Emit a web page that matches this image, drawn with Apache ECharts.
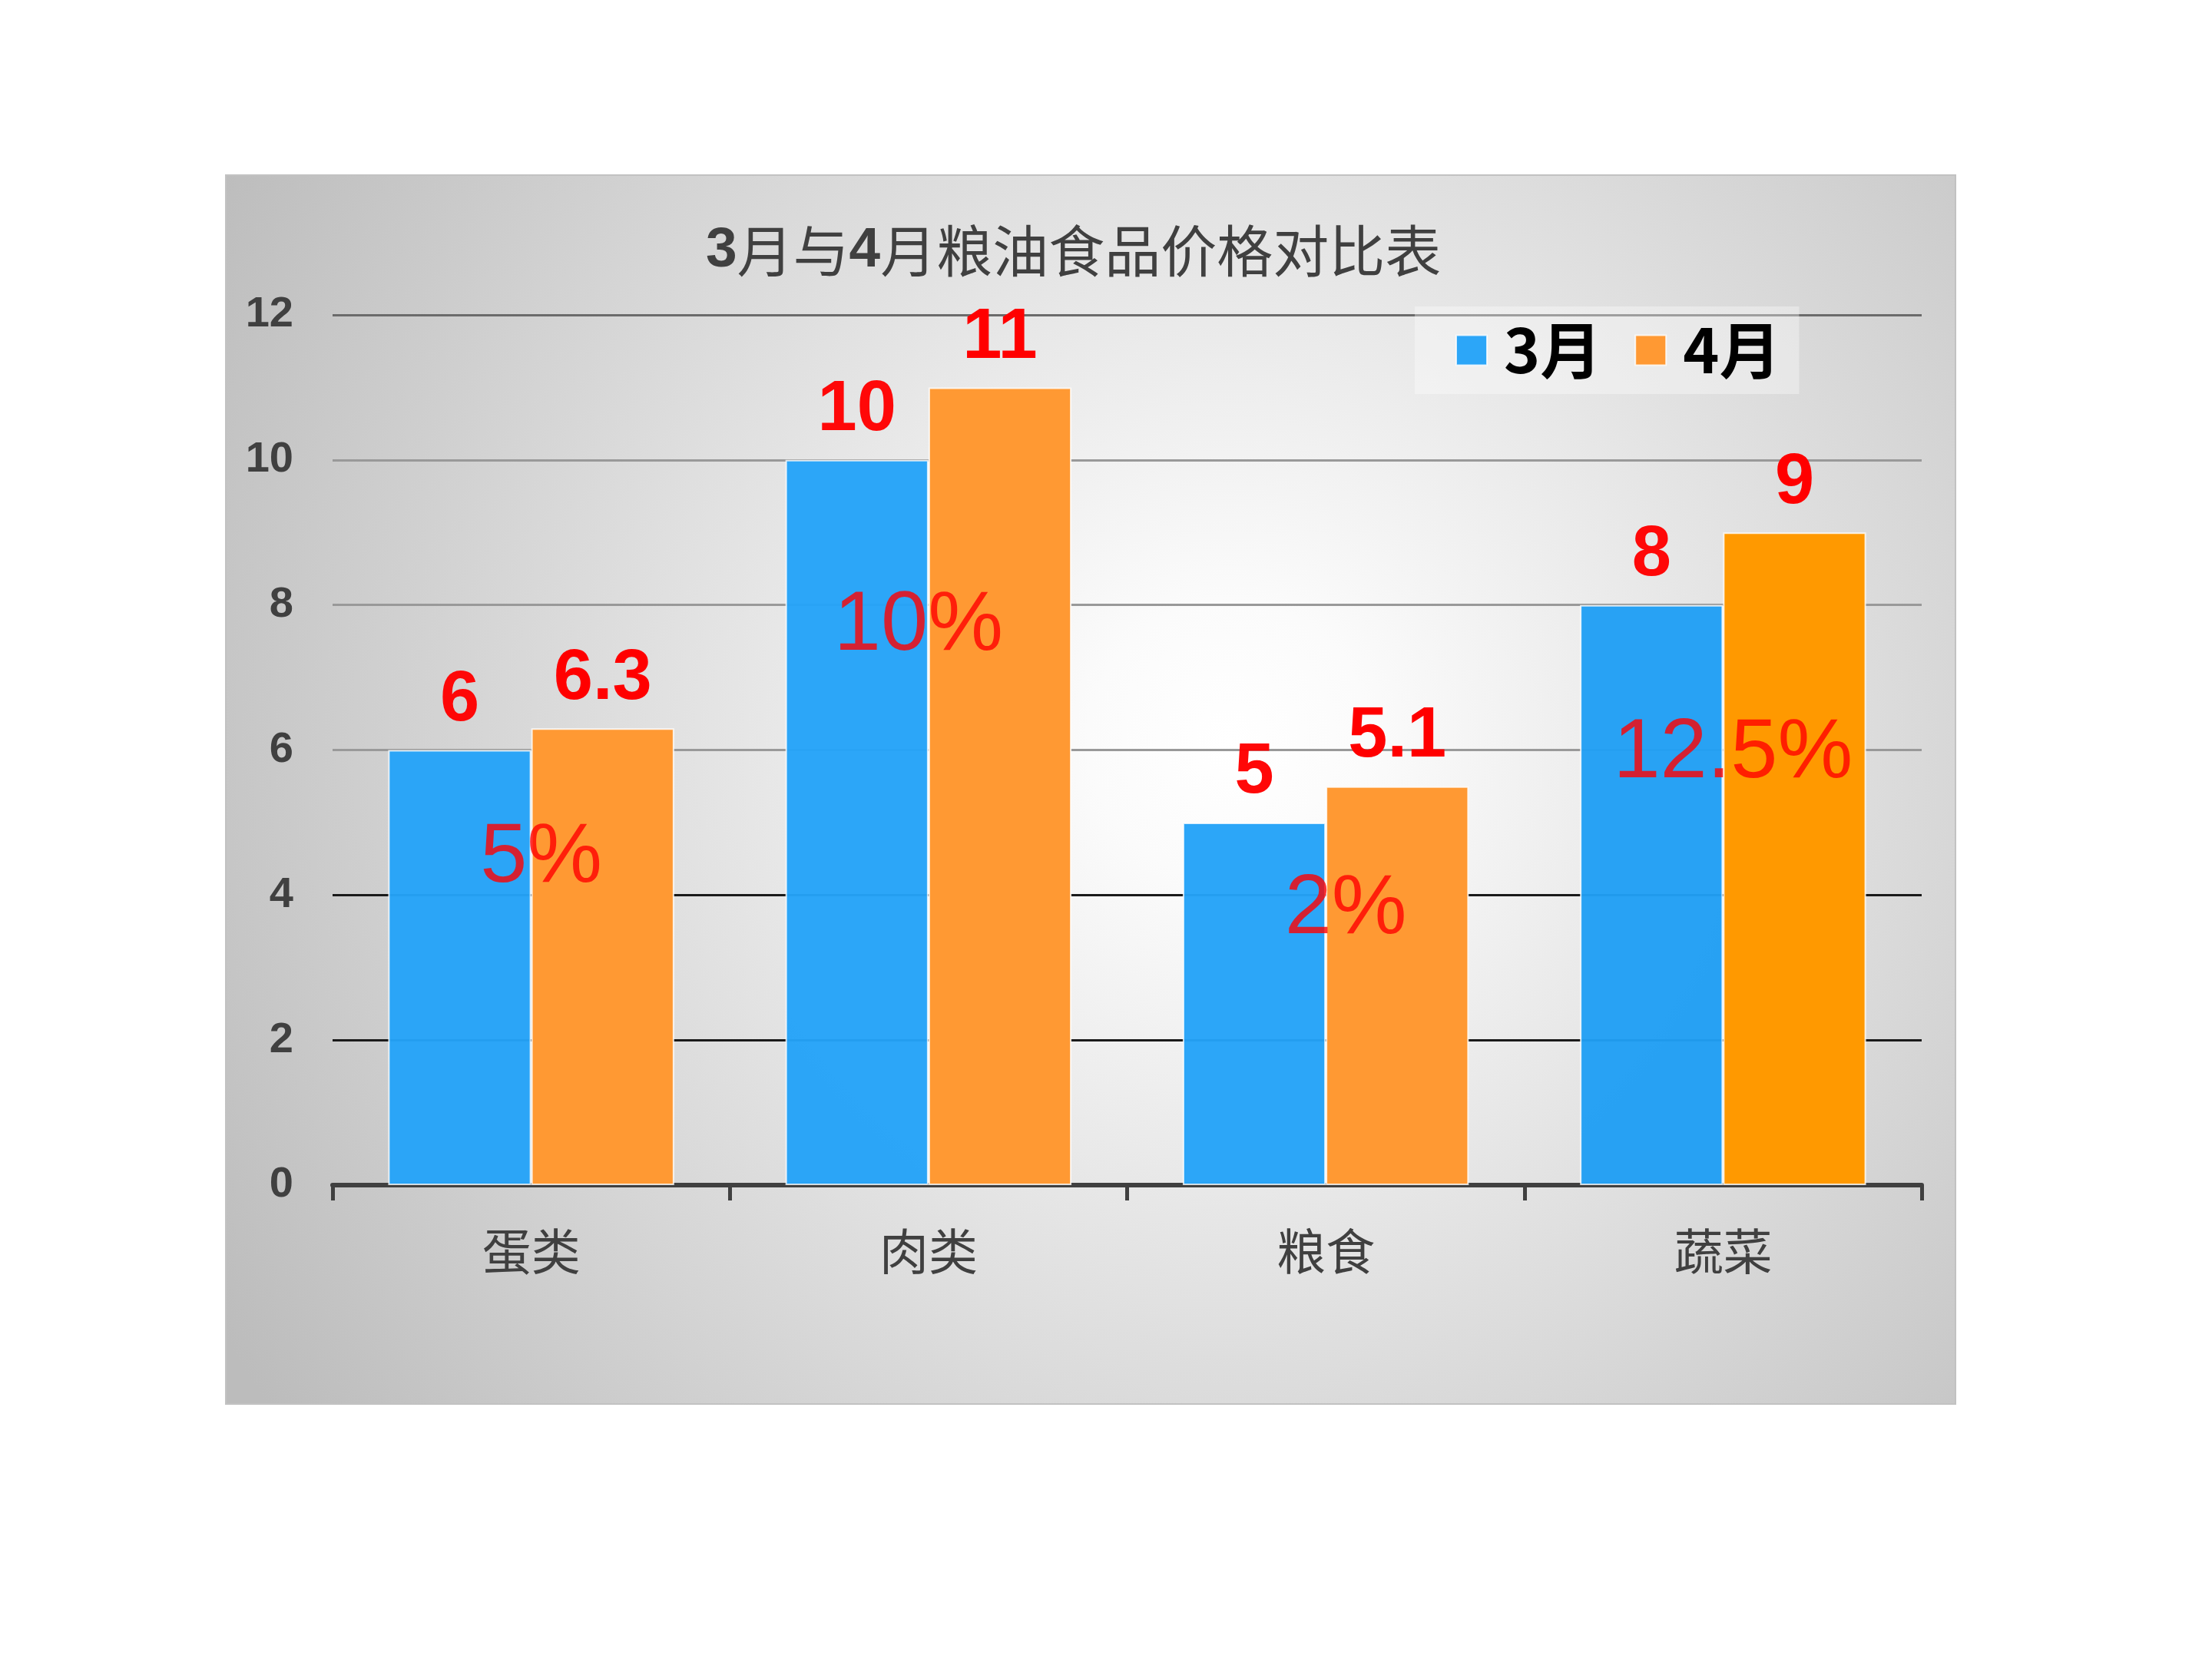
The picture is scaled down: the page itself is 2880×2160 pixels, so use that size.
<!DOCTYPE html>
<html>
<head>
<meta charset="utf-8">
<script src="https://cdn.jsdelivr.net/npm/echarts@6/dist/echarts.min.js"></script>
<style>
  html, body { margin: 0; padding: 0; background: #fff; }
  #main { width: 2880px; height: 2160px; }
</style>
</head>
<body>
<div id="main"></div>
<script>
// 数据
const categories = ['蛋类', '肉类', '粮食', '蔬菜'];
const seriesNames = ['3月', '4月'];
const marValues = [6, 10, 5, 8];
const aprValues = [6.3, 11, 5.5, 9];          // 柱高（图上 粮食 柱高约 5.5）
const aprLabels = ['6.3', '11', '5.1', '9'];   // 柱顶显示的文字
const pctLabels = ['5%', '10%', '2%', '12.5%'];
const yTicks = [0, 2, 4, 6, 8, 10, 12];

const NUM_FONT = '"Liberation Sans", Arial, sans-serif';
const CJK_FONT = '"Noto Sans CJK SC", sans-serif';

function setOption(chart) {
  // 涨幅文字的位置：纵向(数据单位) / 横向偏移(px)
  const pctY = [4.5, 7.7, 3.8, 5.95];
  const pctDx = [13, -13, 26, 13];

  const option = {
    animation: false,
    graphic: [
      {
        type: 'rect',
        z: -10,
        silent: true,
        shape: { x: 294, y: 228, width: 2252, height: 1600 },
        style: {
          fill: new echarts.graphic.RadialGradient(0.58, 0.46, 0.95, [
            { offset: 0, color: '#ffffff' },
            { offset: 0.12, color: '#fbfbfb' },
            { offset: 1, color: '#bcbcbc' }
          ]),
          stroke: '#c2c2c2',
          lineWidth: 2
        }
      }
    ],
    title: {
      text: '{b|3}月与{b|4}月粮油食品价格对比表',
      left: 919,
      top: 290,
      padding: 0,
      textStyle: {
        fontFamily: CJK_FONT,
        fontSize: 73,
        fontWeight: 'normal',
        color: '#404040',
        rich: {
          b: { fontFamily: NUM_FONT, fontSize: 73, fontWeight: 'bold', color: '#404040' }
        }
      }
    },
    legend: {
      data: seriesNames,
      left: 1842,
      top: 399,
      padding: [17, 24, 17, 53],
      itemGap: 43,
      itemWidth: 40,
      itemHeight: 39,
      icon: 'rect',
      backgroundColor: 'rgba(255,255,255,0.35)',
      textStyle: {
        fontFamily: CJK_FONT,
        fontSize: 80,
        fontWeight: 'bold',
        color: '#000',
        padding: [0, 0, 0, 17]
      }
    },
    grid: {
      left: 433,
      right: 378,
      top: 410,
      bottom: 617
    },
    xAxis: {
      type: 'category',
      data: categories,
      axisLine: { lineStyle: { color: '#404040', width: 6 } },
      axisTick: { show: true, length: 20, lineStyle: { color: '#404040', width: 5 } },
      axisLabel: {
        fontFamily: CJK_FONT,
        fontSize: 64,
        color: '#404040',
        margin: 54
      }
    },
    yAxis: {
      type: 'value',
      min: yTicks[0],
      max: yTicks[yTicks.length - 1],
      interval: 2,
      axisLine: { show: false },
      axisTick: { show: false },
      axisLabel: {
        fontFamily: NUM_FONT,
        fontSize: 56,
        fontWeight: 'bold',
        color: '#404040',
        margin: 51
      },
      splitLine: {
        lineStyle: {
          width: 3,
          color: ['#404040', '#1a1a1a', '#1a1a1a', '#999999', '#999999', '#999999', '#6b6b6b']
        }
      }
    },
    series: [
      {
        name: seriesNames[0],
        type: 'bar',
        barGap: '0%',
        barCategoryGap: '28%',
        data: marValues.map((v, i) => ({
          value: v,
          itemStyle: { color: i === 3 ? '#219ff4' : '#25a3f8' }
        })),
        itemStyle: {
          color: '#25a3f8',
          opacity: 0.97,
          borderColor: 'rgba(255,255,255,0.8)',
          borderWidth: 2
        },
        label: {
          show: true,
          position: 'top',
          distance: 18,
          fontFamily: NUM_FONT,
          fontSize: 92,
          fontWeight: 'bold',
          color: '#ff0000'
        }
      },
      {
        name: seriesNames[1],
        type: 'bar',
        data: aprValues.map((v, i) => ({
          value: v,
          itemStyle: { color: i === 3 ? '#ff9900' : '#ff9933' }
        })),
        itemStyle: {
          color: '#ff9933',
          borderColor: 'rgba(255,255,255,0.8)',
          borderWidth: 2
        },
        label: {
          show: true,
          position: 'top',
          distance: 18,
          fontFamily: NUM_FONT,
          fontSize: 92,
          fontWeight: 'bold',
          color: '#ff0000',
          formatter: p => aprLabels[p.dataIndex]
        }
      },
      {
        name: '涨幅',
        type: 'scatter',
        symbolSize: 0,
        z: 5,
        data: pctLabels.map((t, i) => ({
          value: [i, pctY[i]],
          label: { offset: [pctDx[i], 0] }
        })),
        label: {
          show: true,
          position: 'inside',
          fontFamily: NUM_FONT,
          fontSize: 110,
          color: '#ff0000',
          formatter: p => pctLabels[p.dataIndex]
        }
      }
    ]
  };
  chart.setOption(option);
}

const chart = echarts.init(document.getElementById('main'), null, { renderer: 'canvas' });
setOption(chart);
</script>
</body>
</html>
